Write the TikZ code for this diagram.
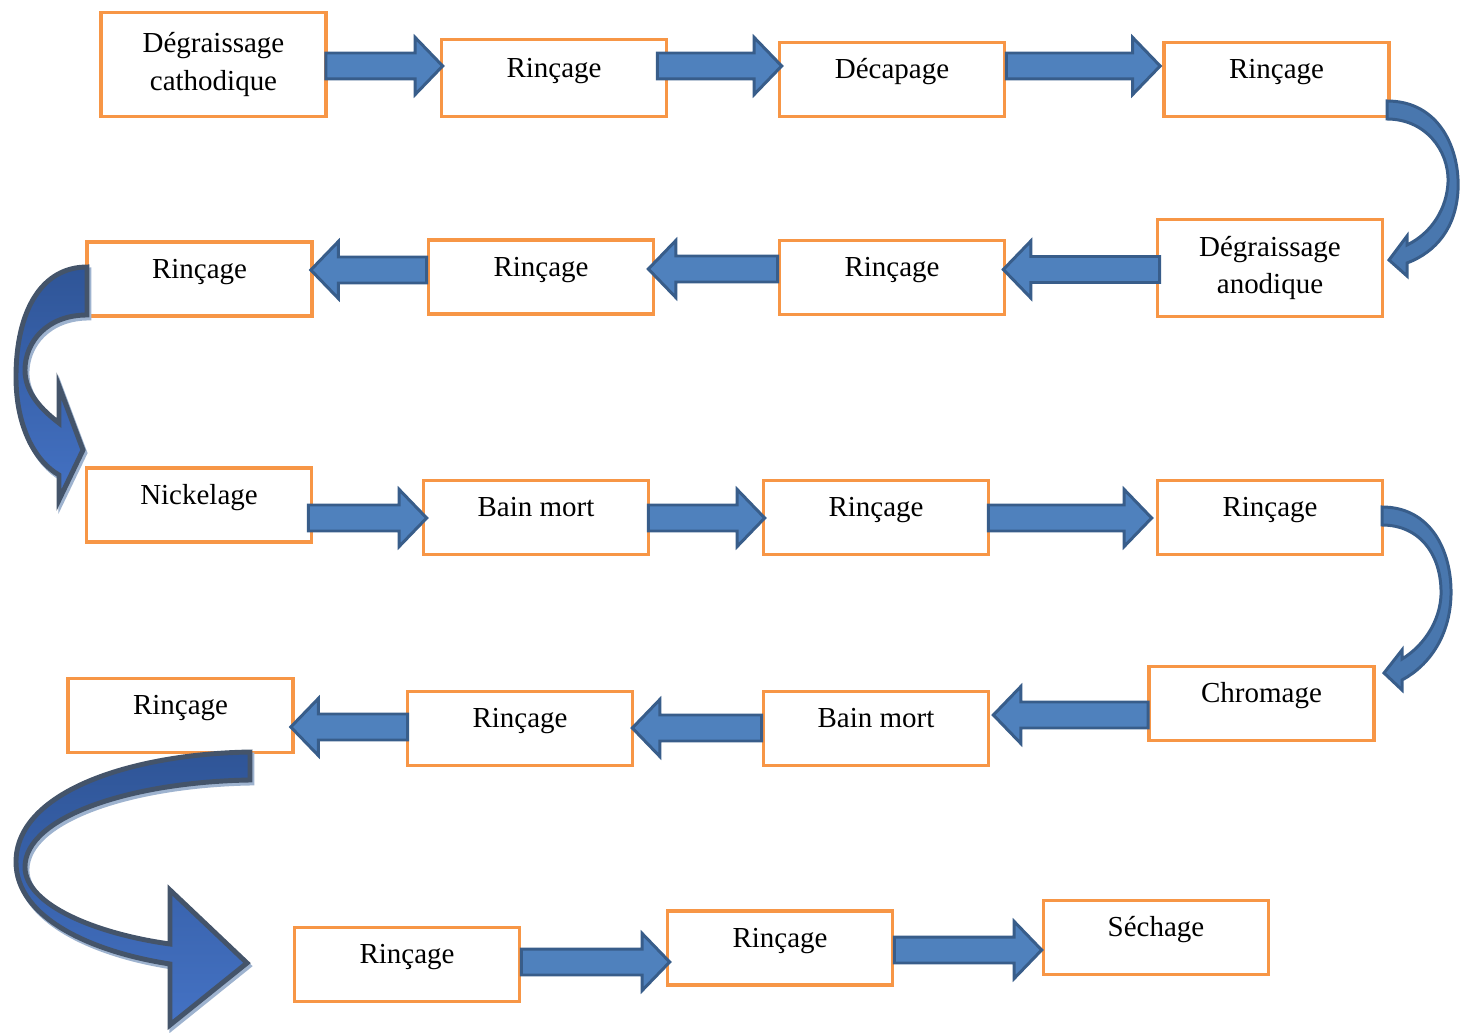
\documentclass[tikz,border=0pt]{standalone}
\usepackage{fontspec}
\setmainfont{Liberation Serif}
\usetikzlibrary{calc}

\definecolor{orangecadre}{HTML}{F79646}
\definecolor{bleufleche}{HTML}{4F81BD}
\definecolor{bordfleche}{HTML}{385D8A}
\definecolor{bleufonce}{HTML}{2F5597}
\definecolor{bleuclair}{HTML}{4472C4}
\definecolor{ardoise}{HTML}{44546A}
\definecolor{ombrebleue}{HTML}{9EB3CF}

\tikzset{
	etape/.style={draw=orangecadre, line width=2.1pt, minimum width=4.5cm, minimum height=1.48cm, inner sep=0pt, align=center, font=\fontsize{16.5}{21.5}\selectfont},
	mot/.style={etape, text height=11pt, text depth=11.8pt},
	fleche/.style={fill=bleufleche, draw=bordfleche, line width=1.7pt, line join=miter},
	courbe/.style={fill=bleufleche!92!black, draw=bordfleche, line width=1.7pt, line join=miter},
	courbefonce/.style={top color=bleufonce, bottom color=bleuclair, draw=ardoise, line width=2.8pt, line join=miter,
		preaction={draw=ombrebleue, line width=2.8pt, transform canvas={shift={(1.1pt,-1.7pt)}}}},
}

% block arrow from #1 to #2
\newcommand{\fleche}[2]{%
	\coordinate (fA) at (#1);
	\coordinate (fB) at (#2);
	\coordinate (fC) at ($(fB)!0.55cm!(fA)$);
	\draw[fleche] ($(fA)!0.26cm!90:(fB)$) -- ($(fC)!0.26cm!90:(fB)$) -- ($(fC)!0.57cm!90:(fB)$) -- (fB)
		-- ($(fC)!0.57cm!-90:(fB)$) -- ($(fC)!0.26cm!-90:(fB)$) -- ($(fA)!0.26cm!-90:(fB)$) -- cycle;
}

\begin{document}
\begin{tikzpicture}[x=0.02cm, y=-0.02cm]
	\useasboundingbox (0,0) rectangle (1470,1033);
	
	% first row
	\node[etape, minimum height=2.08cm] (degc) at (213.5,64.5) {Dégraissage\\cathodique};
	\node[mot, minimum height=1.54cm] (rinc1) at (554,78) {Rinçage};
	\node[mot] (decap) at (892,79.5) {Décapage};
	\node[mot] (rinc2) at (1276.5,79.5) {Rinçage};
	
	% second row
	\node[etape, minimum height=1.94cm] (dega) at (1270,268) {Dégraissage\\anodique};
	\node[mot] (rinc3) at (892,277.5) {Rinçage};
	\node[mot] (rinc4) at (541,277) {Rinçage};
	\node[mot] (rinc5) at (199.5,279) {Rinçage};
	
	% third row
	\node[mot] (nick) at (199,505) {Nickelage};
	\node[mot] (bain1) at (536,517.5) {Bain mort};
	\node[mot] (rinc6) at (876,517.5) {Rinçage};
	\node[mot] (rinc7) at (1270,517.5) {Rinçage};
	
	% fourth row
	\node[mot] (chrom) at (1261.5,703.5) {Chromage};
	\node[mot] (bain2) at (876,728.5) {Bain mort};
	\node[mot] (rinc8) at (520,728.5) {Rinçage};
	\node[mot] (rinc9) at (180.5,715.5) {Rinçage};
	
	% last row
	\node[mot] (rinc10) at (407,964.5) {Rinçage};
	\node[mot] (rinc11) at (780,948) {Rinçage};
	\node[mot] (sech) at (1156,937.5) {Séchage};
	
	% straight arrows
	\fleche{$(degc.east)+(-2,1.5)$}{$(rinc1.west)+(3,-12)$}
	\fleche{$(rinc1.east)+(-11,-12)$}{$(decap.west)+(4,-13.5)$}
	\fleche{$(decap.east)+(0,-13.5)$}{$(rinc2.west)+(-2,-13.5)$}
	
	\fleche{$(dega.west)+(4,1.5)$}{$(rinc3.east)+(-3,-8)$}
	\fleche{$(rinc3.west)+(0,-8.5)$}{$(rinc4.east)+(-7,-8)$}
	\fleche{$(rinc4.west)+(0,-7)$}{$(rinc5.east)+(-3,-9)$}
	
	\fleche{$(nick.east)+(-5,13)$}{$(bain1.west)+(5,0.5)$}
	\fleche{$(bain1.east)+(-2,0.5)$}{$(rinc6.west)+(3,0.5)$}
	\fleche{$(rinc6.east)+(-2,0.5)$}{$(rinc7.west)+(-4,0.5)$}
	
	\fleche{$(chrom.west)+(1,11.5)$}{$(bain2.east)+(3,-13.5)$}
	\fleche{$(bain2.west)+(0,-0.5)$}{$(rinc8.east)+(-2,-0.5)$}
	\fleche{$(rinc8.west)+(2,-1.5)$}{$(rinc9.east)+(-4,11.5)$}
	
	\fleche{$(rinc10.east)+(0,-2.5)$}{$(rinc11.west)+(4,14)$}
	\fleche{$(rinc11.east)+(0,2)$}{$(sech.west)+(0,12.5)$}
	
	% curved arrows between rows
	\draw[courbe] (1387,101) .. controls (1440,101) and (1460,150) .. (1458,190)
		.. controls (1456,228) and (1436,252) .. (1407,263) -- (1407,276) -- (1389,260) -- (1407,236) -- (1407,245)
		.. controls (1432,233) and (1447,208) .. (1448,182) .. controls (1449,150) and (1425,119) .. (1387,119) -- cycle;
	
	\draw[courbefonce] (87,267) .. controls (42,267) and (16,310) .. (16,377)
		.. controls (16,428) and (36,462) .. (59,475) -- (59,500) -- (83,450) -- (59,386) -- (59,423)
		.. controls (42,410) and (25,393) .. (25,370) .. controls (25,342) and (47,315) .. (87,315) -- cycle;
	
	\draw[courbe] (1382,507) .. controls (1430,507) and (1452,550) .. (1451,595)
		.. controls (1450,635) and (1430,665) .. (1402,680) -- (1402,690) -- (1384,673) -- (1402,650) -- (1402,659)
		.. controls (1425,645) and (1440,620) .. (1441,595) .. controls (1442,555) and (1420,525) .. (1382,525) -- cycle;
	
	\draw[courbefonce] (250,752) .. controls (130,754) and (16,792) .. (16,862)
		.. controls (16,918) and (92,952) .. (170,964) -- (170,1025) -- (247,963) -- (170,890) -- (170,944)
		.. controls (97,934) and (25,905) .. (25,867) .. controls (25,817) and (130,782) .. (250,780) -- cycle;
\end{tikzpicture}
\end{document}
